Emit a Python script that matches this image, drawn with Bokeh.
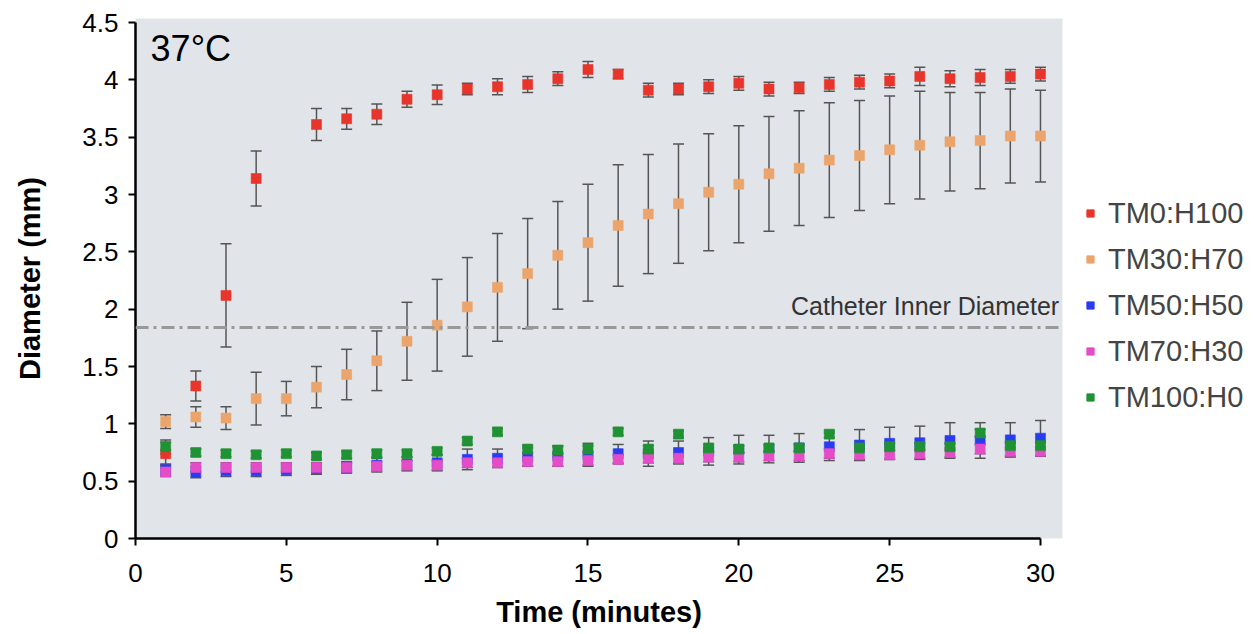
from bokeh.plotting import figure
from bokeh.layouts import row
from bokeh.models import (ColumnDataSource, Whisker, TeeHead, Range1d, FixedTicker,
                          Span, Label, Legend, LegendItem)
from bokeh.embed import file_html
from bokeh.resources import INLINE

minutes = list(range(1, 31))
red_minutes = [1, 2, 3, 4] + list(range(6, 31))

tm0_h100 = [0.74, 1.33, 2.12, 3.14, 3.61, 3.66, 3.70, 3.83, 3.87, 3.92, 3.94, 3.96, 4.01, 4.09,
            4.05, 3.91, 3.92, 3.94, 3.97, 3.92, 3.93, 3.96, 3.98, 3.99, 4.03, 4.01, 4.02, 4.03, 4.05]
tm0_h100_err = [0.10, 0.13, 0.45, 0.24, 0.14, 0.09, 0.09, 0.07, 0.085, 0.05, 0.07, 0.07, 0.06, 0.07,
                0.04, 0.06, 0.05, 0.06, 0.06, 0.06, 0.05, 0.06, 0.06, 0.06, 0.08, 0.07, 0.07, 0.06, 0.06]

tm30_h70 = [1.02, 1.06, 1.05, 1.22, 1.22, 1.32, 1.43, 1.55, 1.72, 1.86, 2.02, 2.19, 2.31, 2.47, 2.58,
            2.73, 2.83, 2.92, 3.02, 3.09, 3.18, 3.23, 3.30, 3.34, 3.39, 3.43, 3.46, 3.47, 3.51, 3.51]
tm30_h70_err = [0.06, 0.09, 0.10, 0.23, 0.15, 0.18, 0.22, 0.26, 0.34, 0.40, 0.43, 0.47, 0.48, 0.47, 0.51,
                0.53, 0.52, 0.52, 0.51, 0.51, 0.50, 0.50, 0.50, 0.48, 0.47, 0.47, 0.43, 0.42, 0.41, 0.40]

tm50_h50 = [0.60, 0.58, 0.59, 0.59, 0.60, 0.61, 0.62, 0.64, 0.65, 0.66, 0.69, 0.70, 0.71, 0.72, 0.73,
            0.74, 0.74, 0.75, 0.76, 0.775, 0.78, 0.79, 0.80, 0.815, 0.83, 0.835, 0.855, 0.855, 0.86, 0.875]
tm50_h50_err = [0.05, 0.05, 0.05, 0.05, 0.05, 0.05, 0.05, 0.06, 0.06, 0.07, 0.09, 0.08, 0.08, 0.09, 0.10,
                0.08, 0.11, 0.10, 0.12, 0.125, 0.12, 0.125, 0.12, 0.135, 0.14, 0.145, 0.155, 0.155, 0.15, 0.155]

tm70_h30 = [0.58, 0.62, 0.62, 0.62, 0.62, 0.62, 0.62, 0.63, 0.64, 0.64, 0.66, 0.66, 0.67, 0.67, 0.68,
            0.69, 0.70, 0.70, 0.71, 0.71, 0.72, 0.72, 0.74, 0.73, 0.73, 0.74, 0.75, 0.78, 0.76, 0.76]
tm70_h30_err = [0.04] * 30

tm100_h0 = [0.80, 0.75, 0.74, 0.73, 0.74, 0.72, 0.73, 0.74, 0.74, 0.76, 0.85, 0.93, 0.78, 0.77, 0.78,
            0.93, 0.78, 0.91, 0.79, 0.78, 0.79, 0.79, 0.91, 0.79, 0.80, 0.80, 0.80, 0.92, 0.81, 0.81]
tm100_h0_err = [0.06] + [0.03] * 29

series_names = ["TM0:H100", "TM30:H70", "TM50:H50", "TM70:H30", "TM100:H0"]
series_colors = ["#E8352B", "#EBA56C", "#2A3CF2", "#E54CC8", "#1F9233"]

x_ticks = [0, 5, 10, 15, 20, 25, 30]
y_ticks = [0, 0.5, 1, 1.5, 2, 2.5, 3, 3.5, 4, 4.5]
y_tick_labels = ["0", "0.5", "1", "1.5", "2", "2.5", "3", "3.5", "4", "4.5"]
catheter_inner_diameter = 1.84

FONT = "Liberation Sans"
H = 632

p = figure(width=1072, height=H, output_backend="svg", toolbar_location=None,
           x_range=Range1d(0, 30.73), y_range=Range1d(0, 4.535),
           min_border_left=135, min_border_right=10, min_border_top=18,
           min_border_bottom=H - 538)
p.background_fill_color = "#E1E5EA"
p.border_fill_color = "white"
p.outline_line_color = None
p.grid.visible = False

for ax in (p.xaxis, p.yaxis):
    ax.axis_line_color = "black"
    ax.axis_line_width = 2.5
    ax.major_tick_line_color = "black"
    ax.major_tick_line_width = 2
    ax.major_tick_in = 0
    ax.major_tick_out = 7
    ax.minor_tick_line_color = None
    ax.major_label_text_font = FONT
    ax.major_label_text_font_size = "26px"
    ax.major_label_text_color = "black"
    ax.axis_label_text_font = FONT
    ax.axis_label_text_font_size = "29px"
    ax.axis_label_text_font_style = "bold"
    ax.axis_label_text_color = "black"

p.xaxis.ticker = FixedTicker(ticks=x_ticks)
p.yaxis.ticker = FixedTicker(ticks=y_ticks)
p.xaxis.bounds = (x_ticks[0], x_ticks[-1])
p.yaxis.bounds = (y_ticks[0], y_ticks[-1])
p.yaxis.major_label_overrides = {t: s for t, s in zip(y_ticks, y_tick_labels)}
p.xaxis.major_label_standoff = 18
p.yaxis.major_label_standoff = 10
p.xaxis.axis_label = "Time (minutes)"
p.yaxis.axis_label = "Diameter (mm)"
p.xaxis.axis_label_standoff = 11
p.yaxis.axis_label_standoff = 33

p.add_layout(Span(location=catheter_inner_diameter, dimension="width", line_color="#999999",
                  line_width=3, line_dash="13 5 3 5"))
p.add_layout(Label(x=30.62, y=2.03, text="Catheter Inner Diameter", text_align="right",
                   text_baseline="middle", text_font=FONT, text_font_size="25px",
                   text_color="#333333"))
p.add_layout(Label(x=0.5, y=4.27, text="37°C", text_align="left", text_baseline="middle",
                   text_font=FONT, text_font_size="36px", text_color="black"))

all_series = [
    (red_minutes, tm0_h100, tm0_h100_err),
    (minutes, tm30_h70, tm30_h70_err),
    (minutes, tm50_h50, tm50_h50_err),
    (minutes, tm70_h30, tm70_h30_err),
    (minutes, tm100_h0, tm100_h0_err),
]

sources = []
for (xs, ys, es), name, col in zip(all_series, series_names, series_colors):
    src = ColumnDataSource(dict(x=xs, y=ys,
                                upper=[a + b for a, b in zip(ys, es)],
                                lower=[a - b for a, b in zip(ys, es)]))
    sources.append(src)
    w = Whisker(source=src, base="x", upper="upper", lower="lower",
                line_color="#555555", line_width=1.5,
                upper_head=TeeHead(size=11, line_color="#555555", line_width=1.5),
                lower_head=TeeHead(size=11, line_color="#555555", line_width=1.5))
    p.add_layout(w)
    p.scatter("x", "y", source=src, marker="square", size=10, fill_color=col,
              line_color=col, line_alpha=0.6)

# legend panel to the right of the chart (its data range shows none of the points)
lg = figure(width=178, height=H, output_backend="svg", toolbar_location=None,
            x_range=Range1d(-1, 0), y_range=Range1d(-1, 0),
            min_border_left=0, min_border_right=0, min_border_top=0, min_border_bottom=0)
lg.axis.visible = False
lg.grid.visible = False
lg.outline_line_color = None
lg.background_fill_color = "white"
items = []
for src, name, col in zip(sources, series_names, series_colors):
    r = lg.scatter("x", "y", source=src, marker="square", size=10, fill_color=col, line_color=col)
    items.append(LegendItem(label=name, renderers=[r]))
legend = Legend(items=items, location=(9, 124), orientation="vertical",
                glyph_width=18, glyph_height=34, label_height=34, spacing=12,
                label_standoff=9, padding=0, margin=0,
                label_text_font=FONT, label_text_font_size="29px",
                label_text_baseline="middle",
                background_fill_alpha=0, border_line_color=None)
lg.add_layout(legend, "center")

layout = row(p, lg)
open("out.html", "w").write(file_html(layout, INLINE))
